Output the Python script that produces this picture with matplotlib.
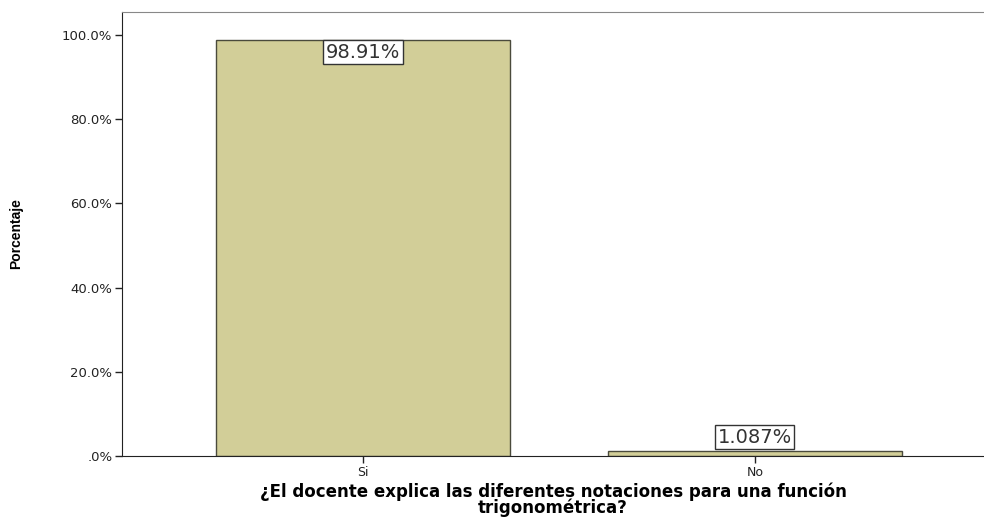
import matplotlib.pyplot as plt

plt.rcParams["font.family"] = ["DejaVu Sans"]

categorias = ["Si", "No"]
porcentajes = [98.91, 1.087]
etiquetas = ["98.91%", "1.087%"]
yticks = [0, 20, 40, 60, 80, 100]
ytick_labels = [".0%", "20.0%", "40.0%", "60.0%", "80.0%", "100.0%"]

fig = plt.figure(figsize=(9.84, 5.18), dpi=100)
ax = fig.add_axes([0.124, 0.12, 0.876, 0.857])

x = range(len(categorias))
ax.bar(x, porcentajes, width=0.75, color="#d2ce98", edgecolor="#4a4a3c", linewidth=1.0)

# value boxes: inside the tall bar, on top of the short one
caja = dict(boxstyle="square,pad=0.12", fc="white", ec="#333333", lw=1)
for xi, val, txt in zip(x, porcentajes, etiquetas):
    if val > 50:
        ax.text(xi, val - 0.7, txt, ha="center", va="top", fontsize=14, color="#333333", bbox=caja)
    else:
        ax.text(xi, val + 1.1, txt, ha="center", va="bottom", fontsize=14, color="#333333", bbox=caja)

ax.set_xlim(-0.615, 1.585)
ax.set_ylim(0, 105.5)
ax.set_xticks(list(x))
ax.set_xticklabels(categorias, fontsize=9)
ax.set_yticks(yticks)
ax.set_yticklabels(ytick_labels, fontsize=9.5)
ax.tick_params(axis="both", length=5, width=1, color="#222222", labelcolor="#222222")
ax.tick_params(axis="x", pad=2)
ax.tick_params(axis="y", pad=2)

ax.spines["right"].set_visible(False)
ax.spines["top"].set_color("#888888")
ax.spines["left"].set_color("#222222")
ax.spines["bottom"].set_color("#222222")

ax.set_ylabel("Porcentaje", fontsize=10, fontweight="bold", family="Liberation Sans", labelpad=28)
ax.set_xlabel("¿El docente explica las diferentes notaciones para una función\ntrigonométrica?",
              fontsize=12, fontweight="bold", linespacing=0.8, labelpad=3)

fig.savefig("out.png", dpi=100)
